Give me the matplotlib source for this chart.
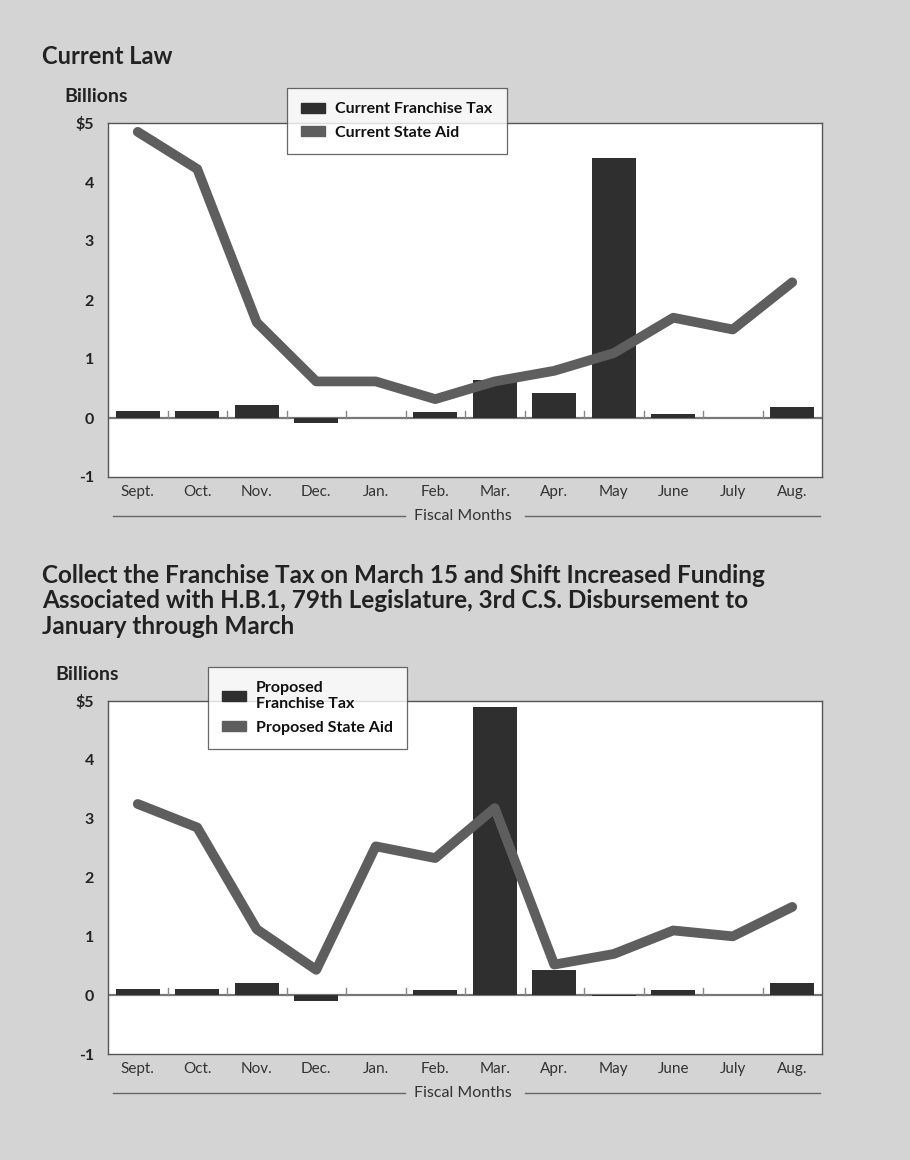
import matplotlib
matplotlib.use("Agg")
import matplotlib.pyplot as plt
from matplotlib.patches import Patch
import numpy as np

months = ["Sept.", "Oct.", "Nov.", "Dec.", "Jan.", "Feb.", "Mar.", "Apr.", "May", "June", "July", "Aug."]
ytick_vals = [-1, 0, 1, 2, 3, 4, 5]
ytick_labels = ["-1", "0", "1", "2", "3", "4", "$5"]

current_franchise_tax = [0.12, 0.12, 0.22, -0.08, 0.0, 0.10, 0.65, 0.42, 4.40, 0.07, 0.0, 0.18]
current_state_aid = [4.85, 4.22, 1.62, 0.62, 0.62, 0.32, 0.62, 0.80, 1.10, 1.70, 1.50, 2.30]

proposed_franchise_tax = [0.10, 0.10, 0.20, -0.10, 0.0, 0.08, 4.90, 0.42, -0.02, 0.08, 0.0, 0.20]
proposed_state_aid = [3.25, 2.85, 1.12, 0.43, 2.53, 2.33, 3.18, 0.52, 0.70, 1.10, 1.00, 1.50]

BG = "#d4d4d4"
BAR = "#2f2f2f"
LINE = "#5e5e5e"
FONT = ["Lato", "DejaVu Sans"]
plt.rcParams["font.family"] = FONT

fig = plt.figure(figsize=(9.1, 11.6), dpi=100, facecolor=BG)


def draw_panel(ax, bars, line, labels, legend_bbox):
    x = np.arange(len(months))
    ax.set_facecolor("white")
    ax.bar(x, bars, width=0.74, color=BAR, zorder=3)
    ax.axhline(0, color="#777777", lw=1.6, zorder=2)
    # small boundary ticks at the zero line
    for b in np.arange(len(months) - 1) + 0.5:
        ax.plot([b, b], [0, 0.12], color="#888888", lw=1.0, zorder=2)
    ax.plot(x, line, color=LINE, lw=7, solid_capstyle="round",
            solid_joinstyle="round", zorder=4)
    ax.set_xlim(-0.5, len(months) - 0.5)
    ax.set_ylim(-1, 5)
    ax.set_yticks(ytick_vals)
    ax.set_yticklabels(ytick_labels, fontsize=11.5, fontweight="bold", color="#222222")
    ax.set_xticks(x)
    ax.set_xticklabels(months, fontsize=11, color="#333333")
    ax.tick_params(axis="y", length=0, pad=10)
    ax.tick_params(axis="x", length=0, pad=6)
    for s in ax.spines.values():
        s.set_color("#555555")
        s.set_linewidth(1.0)
    handles = [Patch(facecolor=BAR, edgecolor=BAR), Patch(facecolor=LINE, edgecolor=LINE)]
    leg = ax.legend(handles, labels, loc="upper left", bbox_to_anchor=legend_bbox,
                    bbox_transform=fig.transFigure, frameon=True, fancybox=False,
                    edgecolor="#444444", fontsize=11.5, handlelength=1.5, handleheight=0.55,
                    borderpad=0.9, labelspacing=0.6, handletextpad=0.6,
                    borderaxespad=0.0)
    leg.get_frame().set_linewidth(0.9)
    for t in leg.get_texts():
        t.set_fontweight("bold")
        t.set_color("#111111")
        t.set_linespacing(1.15)
    leg.set_zorder(10)


# Top panel
ax1 = fig.add_axes([108 / 910, 1 - 477 / 1160, 714 / 910, 354 / 1160])
draw_panel(ax1, current_franchise_tax, current_state_aid,
           ["Current Franchise Tax", "Current State Aid"], (287 / 910, 1 - 88 / 1160))

# Bottom panel
ax2 = fig.add_axes([108 / 910, 1 - 1054 / 1160, 714 / 910, 353 / 1160])
draw_panel(ax2, proposed_franchise_tax, proposed_state_aid,
           ["Proposed\nFranchise Tax", "Proposed State Aid"], (208 / 910, 1 - 667 / 1160))

# Titles and labels
fig.text(42 / 910, 1 - 57 / 1160, "Current Law", fontsize=17, fontweight="bold",
         color="#222222", va="center", ha="left")
fig.text(64 / 910, 1 - 96 / 1160, "Billions", fontsize=14, fontweight="bold",
         color="#222222", va="center", ha="left")
fig.text(42 / 910, 1 - 601 / 1160,
         "Collect the Franchise Tax on March 15 and Shift Increased Funding\n"
         "Associated with H.B.1, 79th Legislature, 3rd C.S. Disbursement to\n"
         "January through March",
         fontsize=17.5, fontweight="bold", color="#222222", va="center", ha="left",
         linespacing=1.13)
fig.text(55 / 910, 1 - 675 / 1160, "Billions", fontsize=14, fontweight="bold",
         color="#222222", va="center", ha="left")

for ycen in (516, 1093):
    yf = 1 - ycen / 1160
    fig.text(463 / 910, yf, "Fiscal Months", fontsize=11.5, color="#333333",
             ha="center", va="center")
    fig.add_artist(plt.Line2D([113 / 910, 405 / 910], [yf, yf], color="#666666", lw=1.0))
    fig.add_artist(plt.Line2D([525 / 910, 820 / 910], [yf, yf], color="#666666", lw=1.0))

fig.savefig("out.png", dpi=100, facecolor=BG)
